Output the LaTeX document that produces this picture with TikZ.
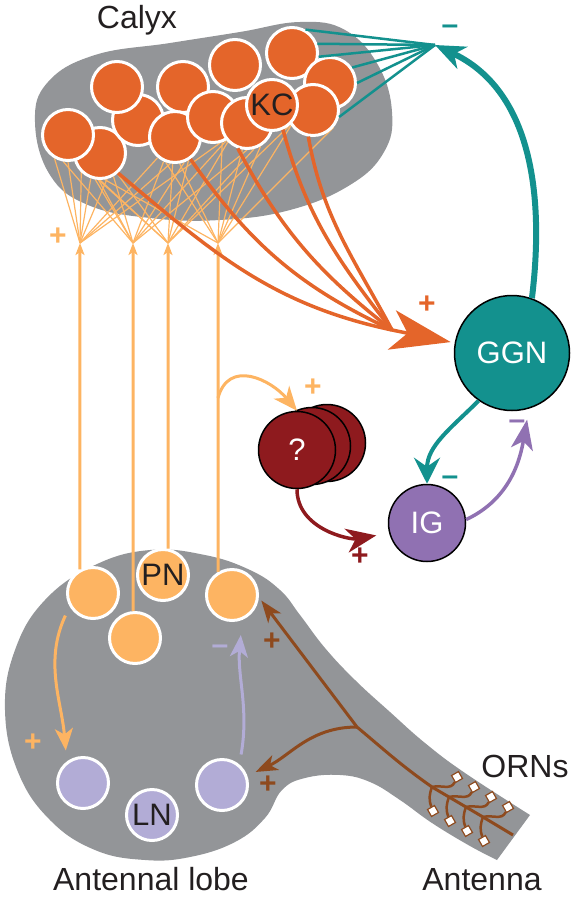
\documentclass[tikz,border=0pt]{standalone}
\usepackage{fontspec}
\setmainfont{Liberation Sans}
\usetikzlibrary{arrows.meta,backgrounds}

\definecolor{hubgray}{HTML}{939598}
\definecolor{kcorange}{HTML}{E4652A}
\definecolor{pnorange}{HTML}{FDB462}
\definecolor{ggnteal}{HTML}{13918E}
\definecolor{igpurple}{HTML}{9071B2}
\definecolor{lnlav}{HTML}{B2ACD6}
\definecolor{qred}{HTML}{8E1A1E}
\definecolor{ornbrown}{HTML}{8E4A1E}
\definecolor{inkblack}{HTML}{231F20}

\tikzset{
  lbl/.style={font=\fontsize{32}{38}\selectfont, text=inkblack, inner sep=0pt},
  cell/.style={circle, draw=white, line width=3pt, minimum size=51pt, inner sep=0pt,
    font=\fontsize{31}{36}\selectfont, text=inkblack},
  kcell/.style={cell, fill=kcorange},
  pncell/.style={cell, fill=pnorange},
  lncell/.style={cell, fill=lnlav},
  bigcell/.style={circle, draw=black, line width=1.5pt, inner sep=0pt, text=white,
    font=\fontsize{31}{36}\selectfont},
  signlbl/.style={font=\bfseries\fontsize{30}{34}\selectfont, inner sep=0pt},
  fanline/.style={draw=pnorange, line width=1.2pt},
  pnline/.style={draw=pnorange, line width=3pt},
  kcline/.style={draw=kcorange, line width=3.5pt},
  ornline/.style={draw=ornbrown, line width=3pt},
  ornend/.style={rectangle, draw=ornbrown, fill=white, line width=1.2pt, minimum size=8pt,
    inner sep=0pt, rotate=30},
}

\begin{document}
\begin{tikzpicture}[x=1pt,y=1pt]
\useasboundingbox (0,0) rectangle (572,-897);

% calyx and antennal lobe
\begin{pgfonlayer}{background}
\fill[hubgray] plot[smooth cycle, tension=0.7] coordinates {(35,-122) (48,-82) (95,-55) (170,-43) (240,-32) (300,-22) (345,-30) (378,-65) (392,-112) (384,-152) (350,-185) (290,-210) (220,-220) (150,-218) (88,-205) (50,-175)};
\fill[hubgray] plot[smooth, tension=0.7] coordinates {(497,-860) (470,-846) (432,-823) (400,-800) (370,-782) (340,-775) (305,-778) (282,-790) (265,-818) (235,-842) (190,-857) (145,-860) (95,-850) (50,-820) (18,-772) (5,-710) (15,-650) (45,-600) (95,-565) (150,-550) (205,-555) (250,-570) (280,-590) (300,-615) (325,-648) (355,-680) (390,-712) (425,-743) (465,-773) (530,-815)} -- cycle;
\end{pgfonlayer}

\node[lbl, anchor=base] (calyx) at (137,-28) {Calyx};
\node[lbl, anchor=base] (allobe) at (151,-890) {Antennal lobe};
\node[lbl, anchor=base] (antenna) at (482,-890) {Antenna};
\node[lbl, anchor=base] (orns) at (525,-777) {ORNs};

% Kenyon cells, back to front
\node[kcell] (kc1) at (100,-153) {};
\node[kcell] (kc2) at (138,-120) {};
\node[kcell] (kc3) at (183,-87) {};
\node[kcell] (kc4) at (235,-65) {};
\node[kcell] (kc5) at (292,-53) {};
\node[kcell] (kc6) at (330,-83) {};
\node[kcell] (kc7) at (68,-135) {};
\node[kcell] (kc8) at (117,-87) {};
\node[kcell] (kc9) at (175,-137) {};
\node[kcell] (kc10) at (213,-117) {};
\node[kcell] (kc11) at (313,-110) {};
\node[kcell] (kc12) at (247,-123) {};
\node[kcell] (kc) at (272,-105) {KC};

% projection neurons
\node[pncell] (pnA) at (93,-593) {};
\node[pncell] (pnB) at (135,-638) {};
\node[pncell] (pn) at (163,-575) {PN};
\node[pncell] (pnD) at (232,-595) {};

% local neurons
\node[lncell] (lnA) at (83,-783) {};
\node[lncell] (ln) at (152,-815) {LN};
\node[lncell] (lnC) at (222,-785) {};

\node[bigcell, fill=ggnteal, minimum size=115pt] (ggn) at (512,-353) {GGN};
\node[bigcell, fill=igpurple, minimum size=77pt] (ig) at (427,-523) {IG};
\node[bigcell, fill=qred, minimum size=77pt] (q3) at (327,-443) {};
\node[bigcell, fill=qred, minimum size=77pt] (q2) at (312,-446) {};
\node[bigcell, fill=qred, minimum size=77pt] (q1) at (297,-450) {?};

% PN axons up to the calyx
\coordinate (tip1) at (80,-243);
\coordinate (tip2) at (133,-243);
\coordinate (tip3) at (168,-243);
\coordinate (tip4) at (218,-243);
\coordinate (pnfork) at (218,-398);
\draw[pnline, -{Stealth[length=12pt,width=9pt,inset=3pt]}] (pnA.119) -- (tip1);
\draw[pnline, -{Stealth[length=12pt,width=9pt,inset=3pt]}] (pnB.94) -- (tip2);
\draw[pnline, -{Stealth[length=12pt,width=9pt,inset=3pt]}] (pn.79) -- (tip3);
\draw[pnline, -{Stealth[length=12pt,width=9pt,inset=3pt]}] (pnD.121) -- (tip4);

\begin{pgfonlayer}{background}
\foreach \t/\targets in {tip1/{kc7.-120,kc7.-90,kc7.-60,kc1.-110,kc1.-75,kc9.-130,kc9.-100,kc10.-75},
    tip2/{kc7.-100,kc7.-50,kc1.-100,kc1.-60,kc9.-115,kc9.-70,kc10.-60,kc12.-90},
    tip3/{kc7.-70,kc1.-90,kc1.-50,kc9.-95,kc9.-60,kc10.-50,kc12.-75,kc.-50},
    tip4/{kc1.-80,kc9.-110,kc9.-80,kc10.-70,kc12.-100,kc12.-60,kc.-30,kc11.-40}}
  \foreach \k in \targets \draw[fanline] (\t) -- (\k);
\end{pgfonlayer}
\node[signlbl, text=pnorange] (plusCalyx) at (58,-237) {+};

% KC output onto GGN
\coordinate (kcjoin) at (392,-330);
\draw[kcline] (kc1.-48) to[out=-40,in=168] (kcjoin);
\draw[kcline] (kc9.-55) to[out=-55,in=155] (kcjoin);
\draw[kcline] (kc12.-110) to[out=-62,in=142] (kcjoin);
\draw[kcline] (kc.-66) to[out=-75,in=128] (kcjoin);
\draw[kcline] (kc11.-100) to[out=-80,in=118] (kcjoin);
\draw[kcline, -{Stealth[length=60pt,width=40pt,inset=16pt]}, shorten >=4pt] (kcjoin) -- (ggn.170);
\node[signlbl, text=kcorange] (plusGGN) at (427,-305) {+};

% GGN feedback to the calyx
\coordinate (inhib) at (435,-45);
\foreach \a in {kc5.60, kc5.20, kc5.-8, kc6.35, kc6.0, kc11.-15}
  \draw[draw=ggnteal, line width=2.5pt] (\a) -- (inhib);
\draw[draw=ggnteal, line width=6pt, -{Stealth[length=30pt,width=24pt,inset=9pt]}] (ggn.70) to[out=83,in=-25] (inhib);
\node[signlbl, text=ggnteal] (minusCalyx) at (450,-30) {--};

% GGN and IG
\draw[draw=ggnteal, line width=4pt, -{Stealth[length=26pt,width=26pt,inset=9pt]}] (ggn.-125) to[out=-135,in=90] (ig.north);
\node[signlbl, text=ggnteal] (minusIG) at (450,-481) {--};
\draw[draw=igpurple, line width=3.5pt, -{Stealth[length=30pt,width=22pt,inset=8pt]}, shorten >=11pt] (ig.5) to[out=25,in=-100] (ggn.-73);
\node[signlbl, text=igpurple] (minusGGN) at (517,-425) {--};

% unknown relay
\draw[pnline, -{Stealth[length=24pt,width=20pt,inset=7pt]}] (pnfork) to[out=75,in=130,looseness=1.3] (q1.north);
\node[signlbl, text=pnorange] (plusQ) at (313,-388) {+};
\draw[draw=qred, line width=3.5pt, -{Stealth[length=30pt,width=24pt,inset=9pt]}, shorten >=13pt] (q1.south) to[out=-90,in=190] (ig.195);
\node[signlbl, text=qred] (plusIG) at (360,-557) {+};

% inside the antennal lobe
\draw[pnline, -{Stealth[length=22pt,width=18pt,inset=6pt]}, shorten <=10pt, shorten >=11pt] (pnA.-150) to[out=-115,in=95] (lnA.127);
\node[signlbl, text=pnorange] (plusLN) at (33,-743) {+};
\draw[draw=lnlav, line width=3pt, -{Stealth[length=22pt,width=18pt,inset=6pt]}, shorten <=10pt, shorten >=15pt] (lnC.50) to[out=80,in=-95] (pnD.-68);
\node[signlbl, text=lnlav] (minusPN) at (220,-650) {--};

% ORNs
\coordinate (ornroot) at (513,-835);
\coordinate (ornfork) at (357,-727);
\foreach \i/\x/\y in {1/432/787, 2/449/797, 3/466/807, 4/483/817} {
  \coordinate (f\i) at (\x,-\y);
  \node[ornend] (su\i) at (\x+25,-\y+10) {};
  \node[ornend] (sd\i) at (\x+1,-\y-24) {};
  \draw[ornline, line width=2.5pt] (f\i) to[out=15,in=-125] (su\i);
  \draw[ornline, line width=2.5pt] (f\i) to[out=-110,in=100] (sd\i);
}
\draw[ornline, -{Stealth[length=22pt,width=16pt,inset=6pt]}, shorten >=4pt] (ornroot) -- (f4) -- (f3) -- (f2) -- (f1) to[out=145,in=-40] (ornfork) -- (pnD.-5);
\draw[ornline, -{Stealth[length=22pt,width=16pt,inset=6pt]}, shorten >=9pt] (ornfork) to[out=180,in=25] (lnC.20);
\node[signlbl, text=ornbrown] (plusPN) at (272,-642) {+};
\node[signlbl, text=ornbrown] (plusLNc) at (268,-785) {+};
\end{tikzpicture}
\end{document}
